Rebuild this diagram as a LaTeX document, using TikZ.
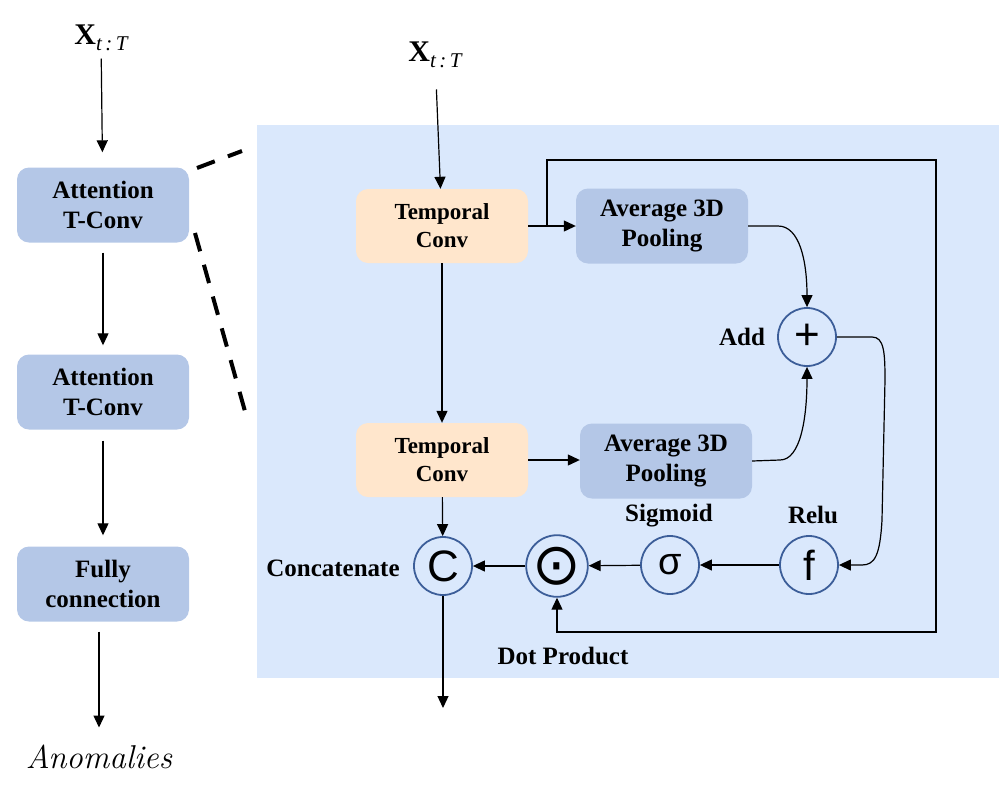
\documentclass[tikz,border=0pt]{standalone}
\usepackage{fontspec}
\newfontfamily\tnr{Liberation Serif}
\newfontfamily\symfont{Liberation Sans}
\newfontfamily\dvfont{DejaVu Sans}
\usetikzlibrary{arrows.meta}
\definecolor{panel}{HTML}{DAE8FC}
\definecolor{boxblue}{HTML}{B4C7E7}
\definecolor{tcol}{HTML}{FFE6CC}
\definecolor{circline}{HTML}{3C5E99}
\tikzset{
  lbox/.style={rectangle, rounded corners=12pt, fill=boxblue, minimum width=172pt, minimum height=75pt, inner sep=0pt, align=center, font={\tnr\bfseries\fontsize{25}{30}\selectfont}},
  tbox/.style={lbox, fill=tcol, minimum height=74pt, font={\tnr\bfseries\fontsize{23}{28}\selectfont}},
  circ/.style={circle, draw=circline, line width=1.8pt, fill=panel, minimum size=58pt, inner sep=0pt},
  arr/.style={-{Triangle[length=12pt,width=11pt]}, line width=1.2pt},
  lab/.style={font={\tnr\bfseries\fontsize{25}{30}\selectfont}},
  xlab/.style={font={\tnr\bfseries\fontsize{30}{34}\selectfont}},
  dashline/.style={line width=4pt, dash pattern=on 19pt off 14pt}
}
\newcommand{\xtT}{X\raisebox{-6pt}{\fontsize{21}{21}\selectfont\mdseries\itshape t\,:\,T}}
\begin{document}
\begin{tikzpicture}[x=1pt,y=-1pt]
\useasboundingbox (0,0) rectangle (999,785);
\fill[panel] (257,125) rectangle (999,678);

% left column
\node[xlab] (X1) at (101,38) {\xtT};
\node[lbox] (A1) at (103,205) {Attention\\T-Conv};
\node[lbox] (A2) at (103,392) {Attention\\T-Conv};
\node[lbox] (FC) at (103,584) {Fully\\connection};
\node[font={\fontsize{33}{38}\selectfont\itshape}] (An) at (99,757) {Anomalies};

\draw[arr, shorten <=4pt, shorten >=15pt] (X1) -- (A1);
\draw[arr, shorten <=10pt, shorten >=9pt] (A1) -- (A2);
\draw[arr, shorten <=11pt, shorten >=11pt] (A2) -- (FC);
\draw[arr, shorten <=10pt, shorten >=14pt] (FC.south -| An.north) -- (An.north);

\draw[dashline] (197,168) -- (242,151);
\draw[dashline] (195,233) -- (248,422);

% detail
\node[xlab] (X2) at (435,55) {\xtT};
\node[tbox] (T1) at (442,226) {Temporal\\Conv};
\node[tbox] (T2) at (442,460) {Temporal\\Conv};
\node[lbox] (P1) at (662,226) {Average 3D\\Pooling};
\node[lbox] (P2) at (666,461) {Average 3D\\Pooling};
\node[circ, font={\symfont\fontsize{44}{44}\selectfont}] (Add) at (807,337) {+};
\node[circ, font={\symfont\fontsize{44}{44}\selectfont}] (Cc) at (443,566) {C};
\node[circ, font={\dvfont\fontsize{58}{58}\selectfont}] (Dt) at (557,566) {⊙};
\node[circ, font={\symfont\fontsize{38}{38}\selectfont}] (Sg) at (670,565) {σ};
\node[circ, font={\symfont\fontsize{42}{42}\selectfont}] (Fr) at (809,565) {f};

\node[lab] (AddL) at (742,337) {Add};
\node[lab] (SgL) at (669,516) {Sigmoid};
\node[lab] (FrL) at (813,515) {Relu};
\node[lab] (CcL) at (333,568) {Concatenate};
\node[lab] (DtL) at (563,656) {Dot Product};

\coordinate (fbA) at (547,160);
\coordinate (fbB) at (936,160);
\coordinate (fbC) at (936,632);
\coordinate (out) at (443,708);

\draw[arr, shorten <=18pt] (X2) -- (T1);
\draw[arr] (T1) -- (P1);
\draw[arr] (T1.east) -| (fbA) -- (fbB) -- (fbC) -| (Dt.south);
\draw[arr] (T1) -- (T2);
\draw[arr] (T2) -- (T2 -| P2.west);
\draw[arr] (T2) -- (Cc);
\draw[arr] (Cc) -- (out);
\draw[arr] (Dt) -- (Cc);
\draw[arr] (Sg) -- (Dt);
\draw[arr] (Fr) -- (Sg);
\draw[arr] (P1.east) -- (778,226) .. controls (800,226) and (807,262) .. (Add.north);
\draw[arr] (P2.east) -- (780,460) .. controls (800,460) and (807,420) .. (Add.south);
\draw[arr] (Add.east) -- (872,337) .. controls (884,337) and (885,352) .. (885,380) -- (882,520) .. controls (880,555) and (875,565) .. (862,565) -- (Fr.east);
\end{tikzpicture}
\end{document}
